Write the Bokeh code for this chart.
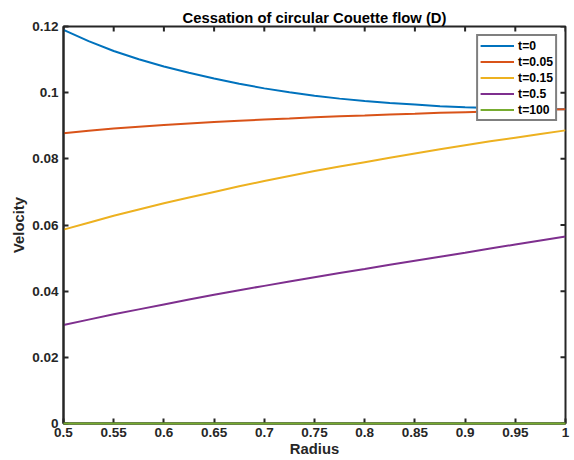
import math
from bokeh.plotting import figure
from bokeh.models import Range1d, FixedTicker, Legend, LegendItem
from bokeh.embed import file_html
from bokeh.resources import INLINE

# Radius samples and velocity profiles at several times
radius = [0.5, 0.525, 0.55, 0.575, 0.6, 0.625, 0.65, 0.675, 0.7, 0.725, 0.75,
          0.775, 0.8, 0.825, 0.85, 0.875, 0.9, 0.925, 0.95, 0.975, 1.0]
v_t0 = [0.1190, 0.1156, 0.1126, 0.1101, 0.1079, 0.1060, 0.1043, 0.1027, 0.1013, 0.1001, 0.0991,
        0.0982, 0.0975, 0.0969, 0.0964, 0.0959, 0.0956, 0.0954, 0.0952, 0.0951, 0.0950]
v_t005 = [0.0877, 0.0885, 0.0892, 0.0897, 0.0902, 0.0907, 0.0911, 0.0915, 0.0919, 0.0922, 0.0926,
          0.0929, 0.0931, 0.0934, 0.0936, 0.0939, 0.0941, 0.0943, 0.0945, 0.0948, 0.0950]
v_t015 = [0.0586, 0.0607, 0.0628, 0.0647, 0.0666, 0.0683, 0.0700, 0.0717, 0.0733, 0.0748, 0.0763,
          0.0777, 0.0790, 0.0803, 0.0816, 0.0829, 0.0841, 0.0853, 0.0864, 0.0875, 0.0886]
v_t05 = [0.0298, 0.0314, 0.0330, 0.0345, 0.0360, 0.0375, 0.0389, 0.0403, 0.0416, 0.0429, 0.0442,
         0.0455, 0.0467, 0.0480, 0.0492, 0.0504, 0.0516, 0.0529, 0.0541, 0.0553, 0.0565]
v_t100 = [0.0] * 21

series_labels = ["t=0", "t=0.05", "t=0.15", "t=0.5", "t=100"]
series_values = [v_t0, v_t005, v_t015, v_t05, v_t100]
series_colors = ["#0072BD", "#D95319", "#EDB120", "#7E2F8E", "#77AC30"]

x_ticks = [0.5, 0.55, 0.6, 0.65, 0.7, 0.75, 0.8, 0.85, 0.9, 0.95, 1.0]
x_tick_labels = ["0.5", "0.55", "0.6", "0.65", "0.7", "0.75", "0.8", "0.85", "0.9", "0.95", "1"]
y_ticks = [0.0, 0.02, 0.04, 0.06, 0.08, 0.1, 0.12]
y_tick_labels = ["0", "0.02", "0.04", "0.06", "0.08", "0.1", "0.12"]

FONT = "Liberation Sans"
AXIS_COLOR = "#262626"

p = figure(width=574, height=460, output_backend="svg", toolbar_location=None,
           x_range=Range1d(x_ticks[0], x_ticks[-1]), y_range=Range1d(y_ticks[0], y_ticks[-1]),
           min_border_left=63, min_border_right=9, min_border_top=26, min_border_bottom=37,
           title="Cessation of circular Couette flow (D)")
p.background_fill_color = "white"
p.border_fill_color = "white"
p.outline_line_color = AXIS_COLOR
p.outline_line_width = 2
p.xgrid.visible = False
p.ygrid.visible = False

p.title.text_font = FONT
p.title.text_font_size = "14.8px"
p.title.text_font_style = "bold"
p.title.text_color = "black"
p.title.align = "center"
p.title.offset = 0
p.title.standoff = 2

def style_axis(ax):
    ax.axis_line_color = AXIS_COLOR
    ax.axis_line_width = 2
    ax.major_tick_line_color = AXIS_COLOR
    ax.major_tick_line_width = 2
    ax.major_tick_in = 5
    ax.major_tick_out = 0
    ax.minor_tick_line_color = None
    ax.major_label_text_font = FONT
    ax.major_label_text_font_style = "bold"
    ax.major_label_text_font_size = "13.5px"
    ax.major_label_text_color = AXIS_COLOR
    ax.axis_label_text_font = FONT
    ax.axis_label_text_font_style = "bold"
    ax.axis_label_text_font_size = "14.8px"
    ax.axis_label_text_color = AXIS_COLOR

xa = p.xaxis[0]
xa.ticker = FixedTicker(ticks=x_ticks)
xa.major_label_overrides = dict(zip(x_ticks, x_tick_labels))
xa.axis_label = "Radius"
style_axis(xa)
xa.major_label_standoff = 4
xa.axis_label_standoff = 1

ya = p.yaxis[0]
ya.ticker = FixedTicker(ticks=y_ticks)
ya.major_label_overrides = dict(zip(y_ticks, y_tick_labels))
ya.axis_label = "Velocity"
style_axis(ya)
ya.major_label_standoff = 5
ya.axis_label_standoff = 2

# Inward ticks along the top and right edges of the box
p.ray(x=x_ticks, y=[y_ticks[-1]] * len(x_ticks), length=5, length_units="screen",
      angle=-math.pi / 2, line_color=AXIS_COLOR, line_width=2)
p.ray(x=[x_ticks[-1]] * len(y_ticks), y=y_ticks, length=5, length_units="screen",
      angle=math.pi, line_color=AXIS_COLOR, line_width=2)

items = []
for label, vals, color in zip(series_labels, series_values, series_colors):
    r = p.line(radius, vals, line_color=color, line_width=2)
    if label == "t=100":
        r.level = "overlay"
    items.append(LegendItem(label=label, renderers=[r]))

legend = Legend(items=items, location="top_right")
legend.margin = 8
legend.padding = 2
legend.spacing = 1
legend.label_height = 15
legend.glyph_height = 15
legend.glyph_width = 34
legend.label_standoff = 4
legend.label_text_font = FONT
legend.label_text_font_style = "bold"
legend.label_text_font_size = "12.2px"
legend.label_text_color = "black"
legend.border_line_color = "black"
legend.border_line_width = 2
legend.background_fill_color = "white"
legend.background_fill_alpha = 1
p.add_layout(legend)

open("out.html", "w").write(file_html(p, INLINE))
